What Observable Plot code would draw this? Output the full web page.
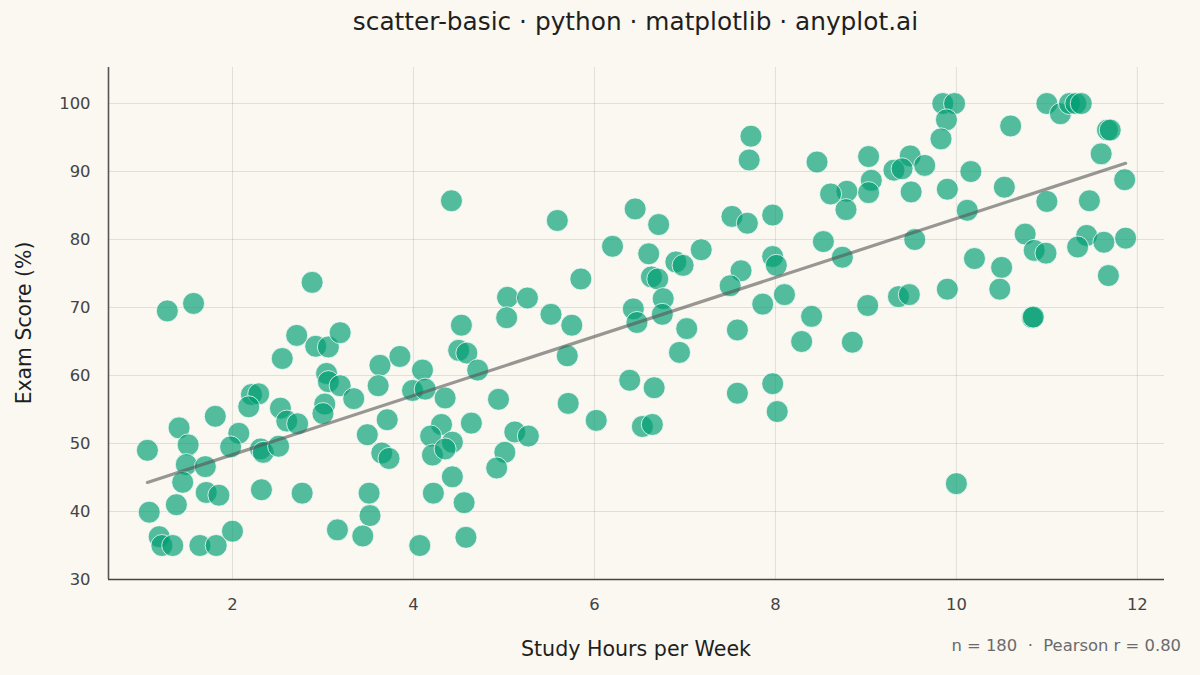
<!DOCTYPE html>
<html>
<head>
<meta charset="utf-8">
<script src="https://cdn.jsdelivr.net/npm/d3@7"></script>
<script src="https://cdn.jsdelivr.net/npm/@observablehq/plot@0.6"></script>
<style>
  html, body { margin: 0; padding: 0; background: #FAF8F1; }
  #wrap { position: relative; width: 1200px; height: 675px; background: #FAF8F1; font-family: "DejaVu Sans", sans-serif; }
  #chart { position: absolute; left: 0; top: 0; }
  #overlay { position: absolute; left: 0; top: 0; pointer-events: none; }
</style>
</head>
<body>
<div id="wrap">
  <div id="chart"></div>
  <svg id="overlay" width="1200" height="675" font-family="DejaVu Sans, sans-serif">
    <text x="635.5" y="29.5" text-anchor="middle" font-size="24.8" fill="#1f1f1f">scatter-basic · python · matplotlib · anyplot.ai</text>
    <text x="636" y="655.5" text-anchor="middle" font-size="20.6" fill="#1f1f1f">Study Hours per Week</text>
    <text transform="translate(31,323) rotate(-90)" text-anchor="middle" font-size="20.4" fill="#1f1f1f">Exam Score (%)</text>
    <text x="1181" y="650.5" text-anchor="end" font-size="16.4" fill="#6b6b6b" xml:space="preserve">n = 180  ·  Pearson r = 0.80</text>
  </svg>
</div>
<script>
// Study hours per week (x) and exam score (y)
const hours = [
  1.28,1.57,2.88,2.71,2.92,3.06,3.19,2.55,3.63,3.61,
  3.04,3.06,3.19,3.34,2.21,2.29,2.18,2.53,2.60,2.72,
  3.02,3.00,1.41,1.81,2.07,1.98,1.06,1.51,2.31,2.34,
  2.51,3.49,3.65,1.49,1.70,1.45,1.71,1.85,2.32,2.77,
  3.51,3.52,1.38,1.08,1.19,1.22,1.34,1.64,1.82,2.00,
  3.16,3.44,3.71,3.73,
  4.42,5.59,6.45,6.71,6.20,6.60,6.63,6.70,5.85,5.04,
  5.26,5.03,5.52,5.75,6.43,6.47,6.76,6.75,4.53,4.50,
  4.59,4.71,5.70,3.85,4.10,3.99,4.13,4.35,4.94,5.71,
  6.02,6.39,6.66,6.53,6.64,4.31,4.19,4.43,4.21,4.35,
  4.64,5.12,5.27,5.01,4.92,4.43,4.22,4.56,4.58,4.07,
  7.73,7.71,8.46,9.03,9.49,9.31,9.40,9.65,9.06,8.79,
  8.61,9.03,9.50,8.78,7.52,7.69,7.97,7.18,6.90,6.98,
  7.02,6.94,7.58,7.62,7.50,7.86,8.10,7.97,8.01,8.53,
  8.74,9.54,8.40,8.29,8.85,9.02,9.36,9.48,7.58,7.97,
  8.02,
  9.85,9.98,9.89,9.83,10.60,11.00,11.15,11.25,11.32,11.38,
  11.67,11.70,11.60,11.86,9.90,10.16,10.53,10.12,11.00,11.47,
  10.76,10.86,10.99,11.44,11.34,11.63,11.87,10.20,10.50,10.48,
  9.90,11.68,10.84,10.85,10.00
];
const scores = [
  69.5,70.6,73.7,65.9,64.3,64.2,66.3,62.5,61.5,58.5,
  60.3,59.1,58.5,56.6,57.2,57.3,55.4,55.2,53.3,52.9,
  55.8,54.4,52.3,54.0,51.5,49.5,49.0,49.8,49.2,48.7,
  49.6,51.3,48.6,46.9,46.6,44.3,42.8,42.4,43.2,42.7,
  42.7,39.4,41.0,39.9,36.3,35.0,35.0,35.0,35.0,37.1,
  37.3,36.4,53.5,47.8,
  85.7,82.8,84.5,82.2,79.0,77.9,74.5,74.2,74.2,71.5,
  71.4,68.5,69.0,67.4,69.8,67.8,71.3,69.0,67.4,63.7,
  63.3,60.8,62.9,62.8,60.8,57.8,58.0,56.7,56.5,55.9,
  53.4,59.3,58.2,52.5,52.8,52.8,51.1,50.2,48.3,49.2,
  53.0,51.7,51.1,48.7,46.4,45.1,42.7,41.3,36.2,35.0,
  95.2,91.7,91.4,92.2,92.3,90.2,90.4,90.9,88.7,87.1,
  86.7,86.9,87.0,84.4,83.4,82.4,83.6,78.5,76.7,76.2,
  66.9,63.4,66.7,75.4,73.2,70.5,71.9,77.5,76.2,79.7,
  77.4,80.0,68.7,65.0,64.9,70.3,71.6,71.9,57.4,58.8,
  54.7,
  100,100,97.6,94.8,96.7,100,98.5,100,100,100,
  96.1,96.1,92.6,88.8,87.4,90.0,87.7,84.3,85.6,85.7,
  80.8,78.4,78.0,80.6,78.9,79.6,80.2,77.2,75.9,72.7,
  72.7,74.7,68.5,68.6,44.1
];
const xTicks = [2, 4, 6, 8, 10, 12];
const yTicks = [30, 40, 50, 60, 70, 80, 90, 100];
const xDomain = [0.63, 12.3];
const yDomain = [30, 105.3];

const data = hours.map((h, i) => ({hours: h, score: scores[i]}));

const chart = Plot.plot({
  width: 1200,
  height: 675,
  marginTop: 67,
  marginBottom: 96,
  marginLeft: 108,
  marginRight: 36,
  style: {background: "transparent", fontFamily: "DejaVu Sans, sans-serif", fontSize: "16.4px", color: "#444"},
  x: {domain: xDomain},
  y: {domain: yDomain},
  marks: [
    Plot.gridX(xTicks, {stroke: "#000", strokeOpacity: 0.1, strokeWidth: 1}),
    Plot.gridY(yTicks, {stroke: "#000", strokeOpacity: 0.1, strokeWidth: 1}),
    Plot.axisX(xTicks, {tickSize: 0, tickPadding: 19, label: null, fill: "#444"}),
    Plot.axisY(yTicks, {tickSize: 0, tickPadding: 18, label: null, fill: "#444"}),
    Plot.dot(data, {x: "hours", y: "score", r: 11, fill: "#009E73", fillOpacity: 0.67, stroke: "#ffffff", strokeWidth: 1, strokeOpacity: 0.75}),
    Plot.linearRegressionY(data, {x: "hours", y: "score", ci: 0, stroke: "#555", strokeOpacity: 0.6, strokeWidth: 3.2}),
    Plot.ruleY([yDomain[0]], {stroke: "#444", strokeWidth: 1.6}),
    Plot.ruleX([xDomain[0]], {stroke: "#555", strokeWidth: 1.6})
  ]
});
document.getElementById("chart").appendChild(chart);
</script>
</body>
</html>
